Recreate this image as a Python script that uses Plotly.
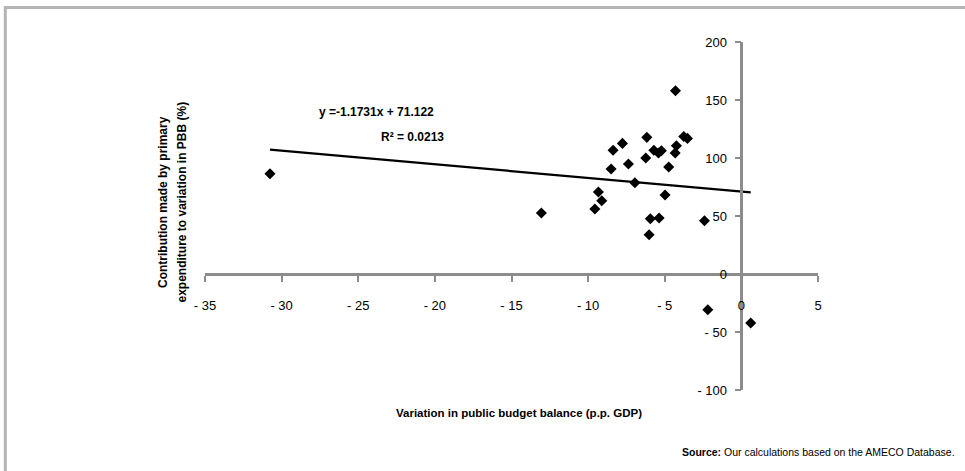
import plotly.graph_objects as go

# Variation in public budget balance (p.p. GDP) per country/period
budget_variation = [-30.76, -13.05, -9.56, -9.33, -9.11, -8.50, -8.37, -7.76, -7.37,
                    -6.95, -6.17, -6.24, -6.02, -5.94, -5.71, -5.41, -5.22, -5.37,
                    -4.98, -4.74, -4.32, -4.24, -3.76, -3.52, -4.30, -2.41, -2.19, 0.61]
# Contribution made by primary expenditure to the variation in PBB (%)
expenditure_contribution = [86.5, 52.6, 56.0, 70.7, 63.2, 90.5, 106.6, 112.6, 94.8,
                            78.7, 117.8, 100.0, 33.9, 47.7, 106.6, 104.3, 106.3, 48.3,
                            68.1, 92.2, 104.3, 110.6, 118.6, 116.9, 158.0, 45.9, -30.8, -42.2]

# Linear trend reported on the chart
trend_slope = -1.1731
trend_intercept = 71.122
r_squared = 0.0213

x_ticks = [-35, -30, -25, -20, -15, -10, -5, 0, 5]
x_tick_labels = ["- 35", "- 30", "- 25", "- 20", "- 15", "- 10", "- 5", "0", "5"]
y_ticks = [-100, -50, 0, 50, 100, 150, 200]
y_tick_labels = ["- 100", "- 50", "0", "50", "100", "150", "200"]

X_RANGE = [-35, 5]
Y_RANGE = [-100, 200]

W, H = 965, 471
ML, MR, MT, MB = 205, 147, 42, 81
PLOT_W = W - ML - MR
PLOT_H = H - MT - MB

FONT = "Liberation Sans, Arial, sans-serif"
AXIS_GREY = "#8c8c8c"


def px_x(px):
    """Horizontal pixel -> paper fraction."""
    return (px - ML) / PLOT_W


def px_y(py):
    """Vertical pixel (from top) -> paper fraction."""
    return (H - MB - py) / PLOT_H


x_line_pos = (0 - Y_RANGE[0]) / (Y_RANGE[1] - Y_RANGE[0])
y_line_pos = (0 - X_RANGE[0]) / (X_RANGE[1] - X_RANGE[0])

trend_x = [min(budget_variation), max(budget_variation)]
trend_y = [trend_slope * v + trend_intercept for v in trend_x]

fig = go.Figure()

fig.add_trace(go.Scatter(
    x=trend_x, y=trend_y, mode="lines",
    line=dict(color="#000000", width=2.2),
    hoverinfo="skip", showlegend=False,
))

fig.add_trace(go.Scatter(
    x=budget_variation, y=expenditure_contribution, mode="markers",
    marker=dict(symbol="diamond", size=8.5, color="#000000",
                line=dict(width=0)),
    showlegend=False,
))

axis_common = dict(
    showgrid=False, zeroline=False, showline=True,
    linecolor=AXIS_GREY, linewidth=2.5,
    ticks="outside", ticklen=6, tickwidth=2, tickcolor=AXIS_GREY,
    tickmode="array", fixedrange=True,
    tickfont=dict(family=FONT, size=13, color="#000000"),
)

fig.update_layout(
    width=W, height=H,
    margin=dict(l=ML, r=MR, t=MT, b=MB),
    paper_bgcolor="#ffffff", plot_bgcolor="#ffffff",
    xaxis=dict(axis_common, range=X_RANGE, tickvals=x_ticks, ticktext=x_tick_labels,
               anchor="free", position=x_line_pos, ticklabelstandoff=13),
    yaxis=dict(axis_common, range=Y_RANGE, tickvals=y_ticks, ticktext=y_tick_labels,
               anchor="free", position=y_line_pos, ticklabelstandoff=5),
    showlegend=False,
)

annotations = [
    dict(text="<b>y =-1.1731x + 71.122</b>", x=px_x(376), y=px_y(112)),
    dict(text="<b>R² = 0.0213</b>", x=px_x(412), y=px_y(136.5)),
    dict(text="<b>Variation in public budget balance (p.p. GDP)</b>",
         x=px_x(519), y=px_y(413), size=11.5),
    dict(text="<b>Contribution made by primary</b>", x=px_x(163.5), y=px_y(202.5),
         angle=-90),
    dict(text="<b>expenditure to variation in PBB (%)</b>", x=px_x(182), y=px_y(202.5),
         angle=-90),
]
for a in annotations:
    fig.add_annotation(
        text=a["text"], xref="paper", yref="paper", x=a["x"], y=a["y"],
        xanchor="center", yanchor="middle", showarrow=False,
        textangle=a.get("angle", 0),
        font=dict(family=FONT, size=a.get("size", 12), color="#000000"),
    )

fig.add_annotation(
    text="<b>Source:</b> Our calculations based on the AMECO Database.",
    xref="paper", yref="paper", x=px_x(957), y=px_y(452.5),
    xanchor="right", yanchor="middle", showarrow=False,
    font=dict(family=FONT, size=10.5, color="#000000"),
)

# Outer frame around the figure (open at the right and bottom edges)
fig.add_shape(
    type="rect", xref="paper", yref="paper",
    x0=px_x(5.3), y0=px_y(H + 10), x1=px_x(W + 10), y1=px_y(7.5),
    line=dict(color="#b4b4b4", width=3), fillcolor="rgba(0,0,0,0)",
    layer="below",
)

fig.write_html("out.html")
